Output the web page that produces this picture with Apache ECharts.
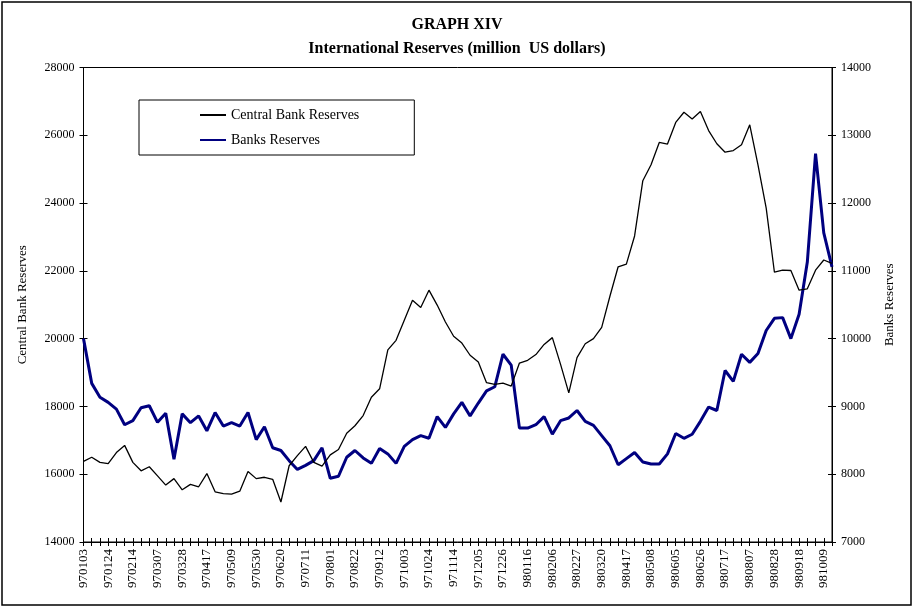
<!DOCTYPE html>
<html>
<head>
<meta charset="utf-8">
<title>GRAPH XIV</title>
<script src="https://cdn.jsdelivr.net/npm/echarts@6.0.0/dist/echarts.min.js"></script>
<style>
    html, body {
        margin: 0;
        padding: 0;
        background: #fff;
    }
    #chart {
        width: 914px;
        height: 608px;
    }
</style>
</head>
<body>
<div id="chart"></div>
<script>
// weekly dates (yymmdd), every third one is labelled
let dates = [
    '970103', '970110', '970117', '970124', '970131', '970207', '970214', '970221', '970228', '970307',
    '970314', '970321', '970328', '970404', '970411', '970417', '970425', '970502', '970509', '970516',
    '970523', '970530', '970606', '970613', '970620', '970627', '970704', '970711', '970718', '970725',
    '970801', '970808', '970815', '970822', '970829', '970905', '970912', '970919', '970926', '971003',
    '971010', '971017', '971024', '971031', '971107', '971114', '971121', '971128', '971205', '971212',
    '971219', '971226', '980102', '980109', '980116', '980123', '980130', '980206', '980213', '980220',
    '980227', '980306', '980313', '980320', '980327', '980403', '980417', '980424', '980430', '980508',
    '980515', '980522', '980605', '980612', '980619', '980626', '980703', '980710', '980717', '980724',
    '980731', '980807', '980814', '980821', '980828', '980904', '980911', '980918', '980925', '981002',
    '981009', '981016'
]
// central bank reserves (left axis)
let centralBank = [
    16380, 16500, 16350, 16310, 16640, 16850, 16350, 16100, 16220, 15950,
    15680, 15870, 15540, 15700, 15630, 16020, 15480, 15430, 15410, 15500,
    16080, 15870, 15910, 15850, 15180, 16250, 16550, 16820, 16350, 16240,
    16570, 16730, 17210, 17430, 17730, 18270, 18520, 19670, 19950, 20540,
    21130, 20920, 21430, 20990, 20490, 20070, 19870, 19510, 19310, 18700,
    18650, 18690, 18600, 19280, 19360, 19530, 19830, 20030, 19240, 18400,
    19440, 19850, 20000, 20330, 21250, 22120, 22200, 23030, 24660, 25130,
    25790, 25740, 26380, 26680, 26480, 26700, 26140, 25750, 25500, 25550,
    25720, 26310, 25130, 23850, 21960, 22020, 22010, 21430, 21470, 22020,
    22320, 22220
]
// banks reserves (right axis)
let banks = [
    10000, 9340, 9135, 9060, 8960, 8730, 8790, 8980, 9010, 8765,
    8900, 8220, 8890, 8760, 8860, 8640, 8910, 8710, 8760, 8710,
    8910, 8510, 8700, 8390, 8350, 8200, 8070, 8130, 8200, 8390,
    7940, 7970, 8250, 8350, 8240, 8160, 8380, 8300, 8160, 8410,
    8510, 8570, 8530, 8850, 8690, 8890, 9060, 8860, 9050, 9230,
    9290, 9770, 9610, 8680, 8680, 8730, 8850, 8590, 8790, 8830,
    8940, 8780, 8720, 8570, 8420, 8140, 8230, 8320, 8180, 8150,
    8150, 8300, 8600, 8530, 8590, 8780, 8990, 8940, 9530, 9370,
    9770, 9650, 9780, 10120, 10300, 10310, 10000, 10360, 11130, 12730,
    11560, 11060
]

let font = 'Liberation Serif, Times New Roman, serif'
// plain numbers, no thousands separator
let plain = function (v) {
    return String(v)
}

let mychart = echarts.init(document.getElementById('chart'))
mychart.setOption({
    animation: false,
    backgroundColor: '#fff',
    textStyle: { fontFamily: font, color: '#000' },
    title: {
        text: 'GRAPH XIV',
        subtext: 'International Reserves (million  US dollars)',
        left: 'center',
        top: 12,
        itemGap: 8,
        textStyle: { fontFamily: font, fontSize: 16, fontWeight: 'bold', color: '#000' },
        subtextStyle: { fontFamily: font, fontSize: 16, fontWeight: 'bold', color: '#000' }
    },
    legend: {
        orient: 'vertical',
        left: 139,
        top: 100,
        padding: [8, 55, 8, 60],
        itemWidth: 26,
        itemHeight: 14,
        itemGap: 11,
        // only the line sample, no marker
        itemStyle: { opacity: 0 },
        borderColor: '#000',
        borderWidth: 1,
        textStyle: { fontFamily: font, fontSize: 14, color: '#000' },
        data: ['Central Bank Reserves', 'Banks Reserves']
    },
    // outer frame of the chart
    graphic: [{
        type: 'rect',
        shape: { x: 2, y: 2, width: 909, height: 603 },
        style: { fill: null, stroke: '#000', lineWidth: 1.5 },
        silent: true
    }],
    grid: {
        left: 83.5,
        right: 82,
        top: 67.5,
        bottom: 66,
        show: true,
        borderColor: '#000',
        borderWidth: 1
    },
    xAxis: [
        {
            type: 'category',
            data: dates,
            boundaryGap: false,
            axisLine: { lineStyle: { color: '#000', width: 1 } },
            axisTick: { interval: 0, length: 4, lineStyle: { color: '#000' } },
            axisLabel: {
                interval: 2,
                rotate: 90,
                margin: 7,
                fontFamily: font,
                fontSize: 13,
                color: '#000'
            },
            splitLine: { show: false }
        },
        {
            // inner half of the crossing ticks
            type: 'category',
            data: dates,
            boundaryGap: false,
            position: 'bottom',
            axisLine: { show: false },
            axisTick: { inside: true, interval: 0, length: 4, lineStyle: { color: '#000' } },
            axisLabel: { show: false },
            splitLine: { show: false }
        }
    ],
    yAxis: [
        {
            type: 'value',
            position: 'left',
            min: 14000,
            max: 28000,
            interval: 2000,
            name: 'Central Bank Reserves',
            nameLocation: 'middle',
            nameGap: 54,
            nameTextStyle: { fontFamily: font, fontSize: 13, color: '#000' },
            axisLine: { show: true, lineStyle: { color: '#000' } },
            axisTick: { show: true, length: 4, lineStyle: { color: '#000' } },
            axisLabel: { margin: 9, fontFamily: font, fontSize: 12, color: '#000', formatter: plain },
            splitLine: { show: false }
        },
        {
            type: 'value',
            position: 'right',
            min: 7000,
            max: 14000,
            interval: 1000,
            name: 'Banks Reserves',
            nameLocation: 'middle',
            nameRotate: 90,
            nameGap: 51,
            nameTextStyle: { fontFamily: font, fontSize: 13, color: '#000' },
            axisLine: { show: true, lineStyle: { color: '#000' } },
            axisTick: { show: true, length: 4, lineStyle: { color: '#000' } },
            axisLabel: { margin: 9, fontFamily: font, fontSize: 12, color: '#000', formatter: plain },
            splitLine: { show: false }
        },
        {
            // inside ticks, left
            type: 'value',
            position: 'left',
            min: 14000,
            max: 28000,
            interval: 2000,
            axisLine: { show: false },
            axisTick: { show: true, inside: true, length: 4, lineStyle: { color: '#000' } },
            axisLabel: { show: false },
            splitLine: { show: false }
        },
        {
            // inside ticks, right
            type: 'value',
            position: 'right',
            min: 7000,
            max: 14000,
            interval: 1000,
            axisLine: { show: false },
            axisTick: { show: true, inside: true, length: 4, lineStyle: { color: '#000' } },
            axisLabel: { show: false },
            splitLine: { show: false }
        }
    ],
    series: [
        {
            name: 'Central Bank Reserves',
            type: 'line',
            xAxisIndex: 0,
            yAxisIndex: 0,
            data: centralBank,
            symbol: 'none',
            itemStyle: { color: '#000' },
            lineStyle: { color: '#000', width: 1.3 },
            z: 3
        },
        {
            name: 'Banks Reserves',
            type: 'line',
            xAxisIndex: 0,
            yAxisIndex: 1,
            data: banks,
            symbol: 'none',
            itemStyle: { color: '#000080' },
            lineStyle: { color: '#000080', width: 3 },
            z: 2
        }
    ]
})
</script>
</body>
</html>
